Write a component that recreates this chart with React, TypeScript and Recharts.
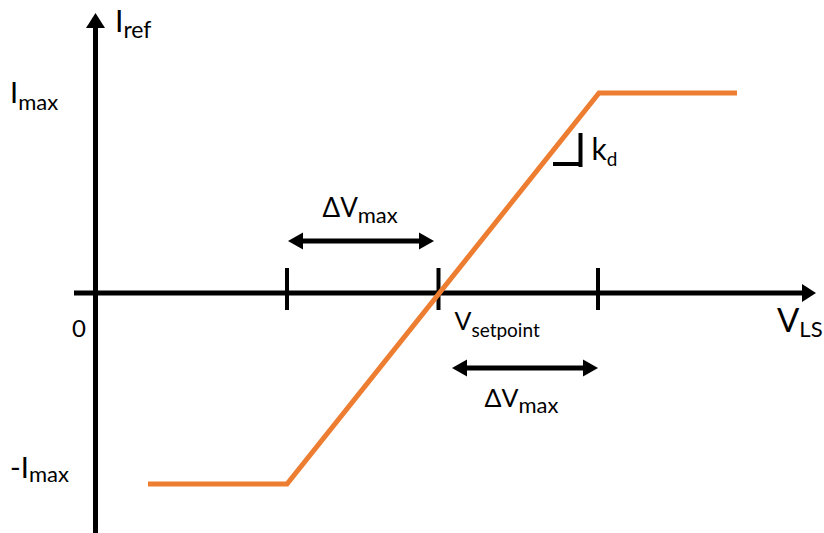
import React from 'react';
import { LineChart, Line, XAxis, YAxis, ReferenceLine, ReferenceDot } from 'recharts';

// Droop characteristic: I_ref as a function of V_LS (x: 10 px-ish units from the I axis, y: per-unit of I_max)
const vLS = [5.25, 19.15, 50.35, 64.15];
const iRef = [-0.955, -0.955, 1.0, 1.0];
const vTicks = [19.15, 34.3, 50.25];
const dvUpper = [19.25, 33.85];
const dvUpperI = 0.26;
const dvLower = [35.65, 50.25];
const dvLowerI = -0.375;
const kdVertical = [48.5, 0.79, 0.64];
const kdHorizontal = [45.75, 48.6, 0.645];

const data = vLS.map((v, k) => ({ v, i: iRef[k] }));

const X_DOMAIN: [number, number] = [-9.55, 72.85];
const Y_DOMAIN: [number, number] = [-1.2, 1.465];
const FONT = 'Lato, "Open Sans", sans-serif';
const INK = '#000000';
const ORANGE = '#ED7D31';

const arrow = (both: boolean, len: number, half: number, width: number) => (p: any) => {
  const { x1, y1, x2, y2 } = p;
  const dx = x2 - x1;
  const dy = y2 - y1;
  const L = Math.sqrt(dx * dx + dy * dy) || 1;
  const ux = dx / L;
  const uy = dy / L;
  const nx = -uy;
  const ny = ux;
  const sx = both ? x1 + ux * (len - 1) : x1;
  const sy = both ? y1 + uy * (len - 1) : y1;
  const ex = x2 - ux * (len - 1);
  const ey = y2 - uy * (len - 1);
  const head = (tx: number, ty: number, dir: number) => {
    const bx = tx - dir * ux * len;
    const by = ty - dir * uy * len;
    return `${tx},${ty} ${bx + nx * half},${by + ny * half} ${bx - nx * half},${by - ny * half}`;
  };
  return (
    <g>
      <line x1={sx} y1={sy} x2={ex} y2={ey} stroke={INK} strokeWidth={width} />
      <polygon points={head(x2, y2, 1)} fill={INK} />
      {both && <polygon points={head(x1, y1, -1)} fill={INK} />}
    </g>
  );
};

const label = (main: string, sub: string, size: number, subSize: number, subDy: number) => (p: any) => (
  <text x={p.cx} y={p.cy} fontFamily={FONT} fontSize={size} fill={INK}>
    <tspan>{main}</tspan>
    {sub && (
      <tspan fontSize={subSize} dy={subDy}>
        {sub}
      </tspan>
    )}
  </text>
);

export default function App() {
  return (
    <div style={{ position: 'absolute', left: 0, top: 0, width: 824, height: 533, background: '#fff' }}>
      <LineChart width={824} height={533} data={data} margin={{ top: 0, right: 0, bottom: 0, left: 0 }}>
        <XAxis type="number" dataKey="v" domain={X_DOMAIN} hide allowDataOverflow />
        <YAxis type="number" domain={Y_DOMAIN} hide allowDataOverflow />
        {/* axes */}
        <ReferenceLine
          segment={[{ x: -2.15, y: 0 }, { x: 72.05, y: 0 }]}
          shape={arrow(false, 14, 9, 5)}
          ifOverflow="visible"
        />
        <ReferenceLine
          segment={[{ x: 0, y: -1.2 }, { x: 0, y: 1.4 }]}
          shape={arrow(false, 15, 9.5, 5)}
          ifOverflow="visible"
        />
        {/* ticks */}
        {vTicks.map((t) => (
          <ReferenceLine
            key={t}
            segment={[{ x: t, y: 0.125 }, { x: t, y: -0.085 }]}
            stroke={INK}
            strokeWidth={4}
            ifOverflow="visible"
          />
        ))}
        {/* delta V arrows */}
        <ReferenceLine
          segment={[{ x: dvUpper[0], y: dvUpperI }, { x: dvUpper[1], y: dvUpperI }]}
          shape={arrow(true, 15, 8.5, 5)}
          ifOverflow="visible"
        />
        <ReferenceLine
          segment={[{ x: dvLower[0], y: dvLowerI }, { x: dvLower[1], y: dvLowerI }]}
          shape={arrow(true, 15, 8.5, 5)}
          ifOverflow="visible"
        />
        {/* k_d slope marker */}
        <ReferenceLine
          segment={[{ x: kdVertical[0], y: kdVertical[1] }, { x: kdVertical[0], y: kdVertical[2] }]}
          stroke={INK}
          strokeWidth={4}
          strokeLinecap="square"
          ifOverflow="visible"
        />
        <ReferenceLine
          segment={[{ x: kdHorizontal[0], y: kdHorizontal[2] }, { x: kdHorizontal[1], y: kdHorizontal[2] }]}
          stroke={INK}
          strokeWidth={4}
          ifOverflow="visible"
        />
        <Line
          type="linear"
          dataKey="i"
          stroke={ORANGE}
          strokeWidth={5}
          dot={false}
          activeDot={false}
          isAnimationActive={false}
        />
        {/* labels */}
        <ReferenceDot x={1.95} y={1.305} r={0} ifOverflow="visible" shape={label('I', 'ref', 30, 23, 6)} />
        <ReferenceDot x={-8.55} y={0.95} r={0} ifOverflow="visible" shape={label('I', 'max', 29, 22, 7)} />
        <ReferenceDot x={-8.55} y={-0.925} r={0} ifOverflow="visible" shape={label('-I', 'max', 29, 22, 4)} />
        <ReferenceDot x={-2.35} y={-0.22} r={0} ifOverflow="visible" shape={label('0', '', 24, 0, 0)} />
        <ReferenceDot x={68.15} y={-0.195} r={0} ifOverflow="visible" shape={label('V', 'LS', 33, 22, 5)} />
        <ReferenceDot x={35.9} y={-0.185} r={0} ifOverflow="visible" shape={label('V', 'setpoint', 25, 19, 7)} />
        <ReferenceDot x={22.7} y={0.38} r={0} ifOverflow="visible" shape={label('ΔV', 'max', 26, 22, 6)} />
        <ReferenceDot x={38.9} y={-0.57} r={0} ifOverflow="visible" shape={label('ΔV', 'max', 25, 22, 6)} />
        <ReferenceDot x={49.6} y={0.665} r={0} ifOverflow="visible" shape={label('k', 'd', 30, 19, 6)} />
      </LineChart>
    </div>
  );
}
